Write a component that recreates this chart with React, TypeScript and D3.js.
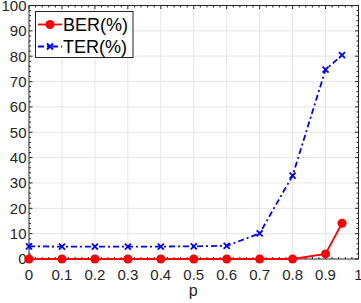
import React, { useEffect, useRef } from "react";
import * as d3 from "d3";

const pValues = [0, 0.1, 0.2, 0.3, 0.4, 0.5, 0.6, 0.7, 0.8, 0.9, 0.95];
const berValues = [0, 0, 0, 0, 0, 0, 0, 0, 0, 2.0, 14.1];
const terValues = [5.0, 4.9, 4.9, 4.9, 4.9, 5.0, 5.2, 10.1, 32.9, 74.7, 80.4];
const xTicks = [0, 0.1, 0.2, 0.3, 0.4, 0.5, 0.6, 0.7, 0.8, 0.9, 1];
const yTicks = [0, 10, 20, 30, 40, 50, 60, 70, 80, 90, 100];
const legendLabels = ["BER(%)", "TER(%)"];

const W = 361;
const H = 303;

export default function App() {
  const svgRef = useRef<SVGSVGElement>(null);

  useEffect(() => {
    if (!svgRef.current) return;
    const svg = d3.select(svgRef.current);
    svg.selectAll("*").remove();

    const left = 29, right = 358.5, top = 5.5, bottom = 259;
    const font = "'Liberation Sans', Arial, sans-serif";

    const x = d3.scaleLinear().domain([0, 1]).range([left, right]);
    const y = d3.scaleLinear().domain([0, 100]).range([bottom, top]);

    svg.append("rect").attr("width", W).attr("height", H).attr("fill", "#fff");

    // grid
    const grid = svg.append("g").attr("stroke", "#e6e6e6").attr("stroke-width", 1);
    xTicks.slice(1, -1).forEach(t => {
      grid.append("line").attr("x1", x(t)).attr("x2", x(t)).attr("y1", top).attr("y2", bottom);
    });
    yTicks.slice(1, -1).forEach(t => {
      grid.append("line").attr("x1", left).attr("x2", right).attr("y1", y(t)).attr("y2", y(t));
    });

    // box
    svg.append("rect")
      .attr("x", left).attr("y", top)
      .attr("width", right - left).attr("height", bottom - top)
      .attr("fill", "none").attr("stroke", "#262626").attr("stroke-width", 1);

    // ticks (inward, all four sides)
    const ticks = svg.append("g").attr("stroke", "#262626").attr("stroke-width", 1);
    const xMinor = d3.range(0, 51).map(i => i * 0.02);
    const yMinor = d3.range(0, 51).map(i => i * 2);
    xMinor.forEach((t, i) => {
      const len = i % 5 === 0 ? 3.5 : 2;
      ticks.append("line").attr("x1", x(t)).attr("x2", x(t)).attr("y1", bottom).attr("y2", bottom - len);
      ticks.append("line").attr("x1", x(t)).attr("x2", x(t)).attr("y1", top).attr("y2", top + len);
    });
    yMinor.forEach((t, i) => {
      const len = i % 5 === 0 ? 3.5 : 2;
      ticks.append("line").attr("x1", left).attr("x2", left + len).attr("y1", y(t)).attr("y2", y(t));
      ticks.append("line").attr("x1", right).attr("x2", right - len).attr("y1", y(t)).attr("y2", y(t));
    });

    // tick labels
    svg.append("g").selectAll("text").data(xTicks).join("text")
      .attr("x", d => x(d)).attr("y", bottom + 20.5)
      .attr("text-anchor", "middle")
      .attr("font-family", font).attr("font-size", 15).attr("fill", "#262626")
      .text(d => String(d));
    svg.append("g").selectAll("text").data(yTicks).join("text")
      .attr("x", left - 2.5).attr("y", d => y(d) + 5.3)
      .attr("text-anchor", "end")
      .attr("font-family", font).attr("font-size", 15).attr("fill", "#262626")
      .text(d => String(d));

    svg.append("text")
      .attr("x", (left + right) / 2 - 0.5).attr("y", bottom + 37)
      .attr("text-anchor", "middle")
      .attr("font-family", font).attr("font-size", 16).attr("fill", "#262626")
      .text("p");

    const line = d3.line<number>()
      .x((_, i) => x(pValues[i]))
      .y(d => y(d));

    // TER
    svg.append("path")
      .datum(terValues)
      .attr("fill", "none").attr("stroke", "#0000ff").attr("stroke-width", 1.8)
      .attr("stroke-dasharray", "6 3 2 3")
      .attr("d", line);
    const cross = (g: d3.Selection<SVGGElement, unknown, null, undefined>, cx: number, cy: number, r: number) => {
      g.append("path")
        .attr("d", `M${cx - r},${cy - r}L${cx + r},${cy + r}M${cx - r},${cy + r}L${cx + r},${cy - r}`)
        .attr("stroke", "#0000ff").attr("stroke-width", 1.8).attr("fill", "none");
    };
    const terMarks = svg.append("g");
    terValues.forEach((v, i) => cross(terMarks, x(pValues[i]), y(v), 3));

    // BER
    svg.append("path")
      .datum(berValues)
      .attr("fill", "none").attr("stroke", "#ff0000").attr("stroke-width", 1.8)
      .attr("d", line);
    svg.append("g").selectAll("circle").data(berValues).join("circle")
      .attr("cx", (_, i) => x(pValues[i])).attr("cy", d => y(d))
      .attr("r", 4.5).attr("fill", "#ff0000");

    // legend
    const lg = svg.append("g");
    lg.append("rect")
      .attr("x", 35.5).attr("y", 11.5).attr("width", 97.5).attr("height", 46)
      .attr("fill", "#fff").attr("stroke", "#262626").attr("stroke-width", 1);
    const rows = [24.5, 46.5];
    lg.append("line").attr("x1", 38).attr("x2", 62).attr("y1", rows[0]).attr("y2", rows[0])
      .attr("stroke", "#ff0000").attr("stroke-width", 1.8);
    lg.append("circle").attr("cx", 50).attr("cy", rows[0]).attr("r", 4.5).attr("fill", "#ff0000");
    lg.append("line").attr("x1", 38).attr("x2", 62).attr("y1", rows[1]).attr("y2", rows[1])
      .attr("stroke", "#0000ff").attr("stroke-width", 1.8).attr("stroke-dasharray", "6 3 2 3");
    cross(lg, 50, rows[1], 3);
    legendLabels.forEach((t, i) => {
      lg.append("text")
        .attr("x", 63).attr("y", rows[i] + 6.5)
        .attr("font-family", font).attr("font-size", 18).attr("fill", "#000")
        .text(t);
    });
  }, []);

  return (
    <svg ref={svgRef} width={W} height={H}
      style={{ position: "absolute", left: 0, top: 0, display: "block" }} />
  );
}
